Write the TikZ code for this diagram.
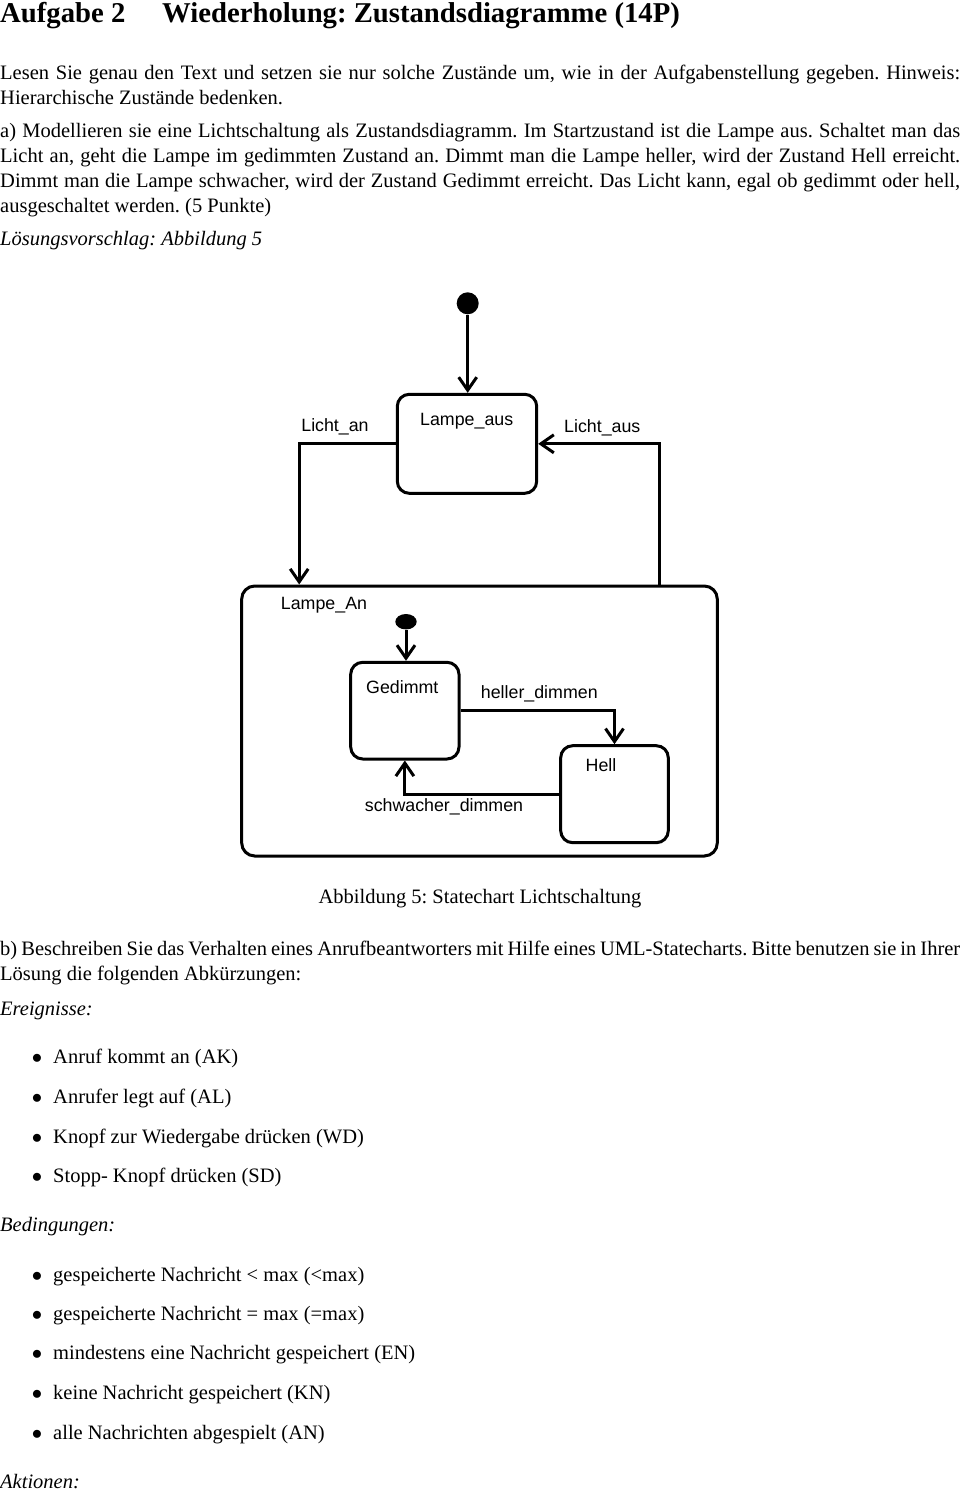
\documentclass[tikz,border=0pt]{standalone}
\usepackage{fontspec}
\setmainfont{Liberation Serif}
\newfontfamily\diagfont{Liberation Sans}
\usetikzlibrary{arrows.meta,shapes.geometric}
\frenchspacing
\newcommand\jline[1]{\hbox to 960pt{\spaceskip=0.25em plus 0.6em minus 0.12em #1}}
\tikzset{
  txt/.style={anchor=base west, inner sep=0pt, font=\fontsize{20.5}{24}\selectfont},
  itxt/.style={txt, font=\fontsize{20.5}{24}\selectfont\itshape},
  head/.style={anchor=base west, inner sep=0pt, font=\fontsize{28.7}{32}\selectfont\bfseries},
  bul/.style={anchor=base, inner sep=0pt, font=\fontsize{20.5}{24}\selectfont},
  state/.style={draw, line width=3pt, rounded corners=12pt, inner sep=0pt},
  lbl/.style={inner sep=0pt, font=\diagfont\fontsize{17.8}{20}\selectfont},
  initial/.style={fill=black, draw=none, inner sep=0pt},
  trans/.style={line width=3pt, -{Straight Barb[length=13pt,width=18pt,line width=3pt]}}
}
\begin{document}
\begin{tikzpicture}[x=1pt,y=-1pt]
\useasboundingbox[fill=white] (0,0) rectangle (960,1491);

% heading and text
\node[head] (h1) at (0,22) {Aufgabe 2};
\node[head] (h2) at (162,22) {Wiederholung: Zustandsdiagramme (14P)};
\node[txt] (t1) at (0,79) {\jline{Lesen Sie genau den Text und setzen sie nur solche Zustände um, wie in der Aufgabenstellung gegeben. Hinweis:}};
\node[txt] (t2) at (0,104) {Hierarchische Zustände bedenken.};
\node[txt] (t3) at (0,137) {\jline{a) Modellieren sie eine Lichtschaltung als Zustandsdiagramm. Im Startzustand ist die Lampe aus. Schaltet man das}};
\node[txt] (t4) at (0,162) {\jline{Licht an, geht die Lampe im gedimmten Zustand an. Dimmt man die Lampe heller, wird der Zustand Hell erreicht.}};
\node[txt] (t5) at (0,187) {\jline{Dimmt man die Lampe schwacher, wird der Zustand Gedimmt erreicht. Das Licht kann, egal ob gedimmt oder hell,}};
\node[txt] (t6) at (0,212) {ausgeschaltet werden. (5 Punkte)};
\node[itxt] (t7) at (0,245) {Lösungsvorschlag: Abbildung 5};

% diagram
\node[initial, circle, minimum size=22pt] (i1) at (467.7,303.3) {};
\node[state, minimum width=139.4pt, minimum height=99pt] (aus) at (467,443.8) {};
\node[lbl] (ausl) at (466.7,421.7) {Lampe\_aus};
\node[state, rounded corners=13pt, minimum width=475.6pt, minimum height=270pt] (an) at (479.5,721) {};
\node[lbl] (anl) at (324,605) {Lampe\_An};
\node[initial, ellipse, minimum width=21.4pt, minimum height=15.4pt] (i2) at (406,621.7) {};
\node[state, minimum width=108.3pt, minimum height=96.7pt] (ged) at (404.85,710.65) {};
\node[lbl] (gedl) at (402.3,687.3) {Gedimmt};
\node[state, minimum width=107.6pt, minimum height=97pt] (hell) at (614.5,794.2) {};
\node[lbl] (helll) at (601,765) {Hell};

\draw[trans] (i1) -- (i1 |- aus.north);
\draw[trans] (aus.west) -| ([xshift=59pt]an.north west);
\draw[trans] ([xshift=-59.6pt]an.north east) |- (aus.east);
\draw[trans] (i2) -- (i2 |- ged.north);
\draw[trans] (ged.east) -| (hell.north);
\draw[trans] (hell.west) -| (ged.south);

\node[lbl] (l1) at (335,426.7) {Licht\_an};
\node[lbl] (l2) at (602.3,428.3) {Licht\_aus};
\node[lbl] (l3) at (539.3,694) {heller\_dimmen};
\node[lbl] (l4) at (444,806.7) {schwacher\_dimmen};

% caption and part b
\node[bul] (cap) at (480,903) {Abbildung 5: Statechart Lichtschaltung};
\node[txt] (b1) at (0,955) {\jline{b) Beschreiben Sie das Verhalten eines Anrufbeantworters mit Hilfe eines UML-Statecharts. Bitte benutzen sie in Ihrer}};
\node[txt] (b2) at (0,980) {Lösung die folgenden Abkürzungen:};
\node[itxt] (e0) at (0,1015) {Ereignisse:};
\foreach \y/\t [count=\i] in {1063/Anruf kommt an (AK), 1103/Anrufer legt auf (AL), 1143/Knopf zur Wiedergabe drücken (WD), 1182/Stopp- Knopf drücken (SD)} {
  \node[bul] (eb\i) at (37,\y) {$\bullet$};
  \node[txt] (e\i) at (53,\y) {\t};
}
\node[itxt] (c0) at (0,1231) {Bedingungen:};
\foreach \y/\t [count=\i] in {1281/gespeicherte Nachricht < max (<max), 1320/gespeicherte Nachricht = max (=max), 1359/mindestens eine Nachricht gespeichert (EN), 1399/keine Nachricht gespeichert (KN), 1439/alle Nachrichten abgespielt (AN)} {
  \node[bul] (cb\i) at (37,\y) {$\bullet$};
  \node[txt] (c\i) at (53,\y) {\t};
}
\node[itxt] (a0) at (0,1488) {Aktionen:};
\end{tikzpicture}
\end{document}
